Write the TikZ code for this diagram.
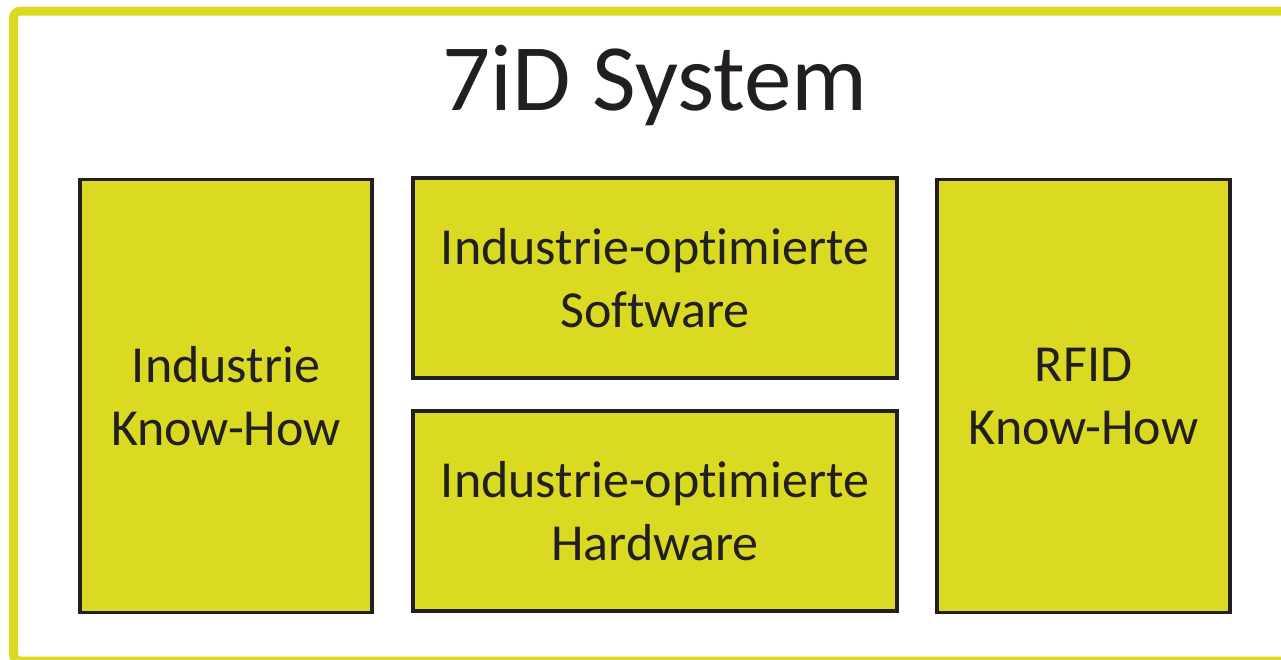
\documentclass[tikz,border=0pt]{standalone}
\usepackage{fontspec}
\setmainfont{Carlito}[Ligatures=NoCommon]
\definecolor{lime}{RGB}{218,218,34}
\definecolor{ink}{RGB}{35,31,32}
\tikzset{
  block/.style={draw=ink, line width=3.2pt, fill=lime, inner sep=0pt, outer sep=0pt,
    align=center, text=ink, font=\fontsize{52}{63}\selectfont},
  frame/.style={draw=lime, line width=9pt, rounded corners=7pt}
}
\begin{document}
\begin{tikzpicture}[x=1pt,y=-1pt]
\useasboundingbox (0,0) rectangle (1281,659);
\draw[frame] (13.5,11) rectangle (1290,661);
\node[anchor=base, text=ink, font=\fontsize{95}{110}\selectfont] (title) at (655,110) {7iD System};
\node[block, minimum width=292pt, minimum height=433pt] (know) at (226,396) {Industrie\\Know-How};
\node[block, minimum width=484pt, minimum height=200pt] (soft) at (655,278) {Industrie-optimierte\\Software};
\node[block, minimum width=484pt, minimum height=200pt] (hard) at (655,511) {Industrie-optimierte\\Hardware};
\node[block, minimum width=293pt, minimum height=433pt] (rfid) at (1083.5,396) {RFID\\Know-How};
\end{tikzpicture}
\end{document}
